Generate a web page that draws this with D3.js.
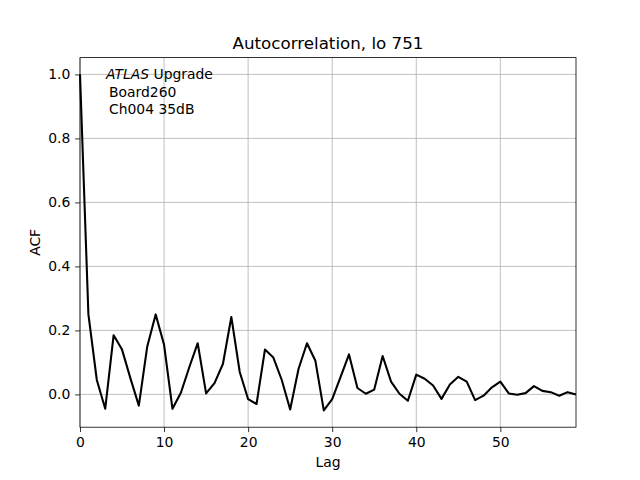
<!DOCTYPE html>
<html>
<head>
<meta charset="utf-8">
<script src="https://cdn.jsdelivr.net/npm/d3@7"></script>
<style>
	body { margin: 0; background: #fff; }
	text { font-family: "DejaVu Sans", sans-serif; }
</style>
</head>
<body>
<script>
// acf values, lag 0..59
var acf = [1.0, 0.25, 0.045, -0.045, 0.185, 0.14, 0.05, -0.035, 0.15, 0.25,
	0.155, -0.045, 0.005, 0.085, 0.16, 0.003, 0.035, 0.095, 0.242, 0.07,
	-0.015, -0.03, 0.14, 0.115, 0.045, -0.047, 0.08, 0.16, 0.105, -0.05,
	-0.015, 0.055, 0.125, 0.02, 0.002, 0.015, 0.12, 0.04, 0.002, -0.02,
	0.062, 0.049, 0.028, -0.014, 0.031, 0.055, 0.04, -0.018, -0.004, 0.022,
	0.04, 0.003, -0.001, 0.004, 0.026, 0.011, 0.007, -0.004, 0.007, 0.0];
var xTicks = [0, 10, 20, 30, 40, 50];
var yTicks = [0.0, 0.2, 0.4, 0.6, 0.8, 1.0];
var labelLines = ["Board260", "Ch004 35dB"];

/* layout, matplotlib default */
var margin = {top: 57.6, right: 64, bottom: 52.8, left: 80},
	W = 640, H = 480,
	width = W - margin.left - margin.right,
	height = H - margin.top - margin.bottom;

var x = d3.scaleLinear().domain([0, acf.length - 1]).range([0, width]);
var y = d3.scaleLinear().domain([-0.1025, 1.0525]).range([height, 0]);

var svg = d3.select("body").append("svg")
	.attr("width", W).attr("height", H);
var g = svg.append("g")
	.attr("transform", "translate(" + margin.left + "," + margin.top + ")");

// grid
g.append("g").selectAll("line").data(xTicks).enter().append("line")
	.attr("x1", function(d) {return x(d);}).attr("x2", function(d) {return x(d);})
	.attr("y1", 0).attr("y2", height)
	.attr("stroke", "#b0b0b0").attr("stroke-width", 0.8);
g.append("g").selectAll("line").data(yTicks).enter().append("line")
	.attr("y1", function(d) {return y(d);}).attr("y2", function(d) {return y(d);})
	.attr("x1", 0).attr("x2", width)
	.attr("stroke", "#b0b0b0").attr("stroke-width", 0.8);

// line
var line = d3.line().x(function(d, i) {return x(i);}).y(function(d) {return y(d);});
g.append("path").datum(acf)
	.attr("fill", "none").attr("stroke", "#000")
	.attr("stroke-width", 2.08).attr("stroke-linejoin", "round")
	.attr("d", line);

// axes
var xAxis = d3.axisBottom(x).tickValues(xTicks).tickSize(4.86).tickPadding(4.86)
	.tickFormat(d3.format("d"));
var yAxis = d3.axisLeft(y).tickValues(yTicks).tickSize(4.86).tickPadding(4.86)
	.tickFormat(d3.format(".1f"));
var gx = g.append("g").attr("transform", "translate(0," + height + ")").call(xAxis);
var gy = g.append("g").call(yAxis);
[gx, gy].forEach(function(a) {
	a.select(".domain").remove();
	a.selectAll("line").attr("stroke", "#000").attr("stroke-width", 0.8);
	a.selectAll("text").attr("font-size", "13.9px").attr("fill", "#000")
		.style("font-family", "DejaVu Sans");
});

// frame
g.append("rect").attr("width", width).attr("height", height)
	.attr("fill", "none").attr("stroke", "#000").attr("stroke-width", 0.8);

// labels
svg.append("text").attr("x", margin.left + width / 2).attr("y", 49)
	.attr("text-anchor", "middle").attr("font-size", "16.7px")
	.text("Autocorrelation, lo 751");
svg.append("text").attr("x", margin.left + width / 2).attr("y", 467)
	.attr("text-anchor", "middle").attr("font-size", "13.9px").text("Lag");
svg.append("text").attr("transform", "translate(40," + (margin.top + height / 2) + ") rotate(-90)")
	.attr("text-anchor", "middle").attr("font-size", "13.9px").text("ACF");

// annotation
var ann = svg.append("text").attr("x", 106).attr("y", 79).attr("font-size", "13.9px");
ann.append("tspan").attr("font-style", "italic").text("ATLAS");
ann.append("tspan").text(" Upgrade");
labelLines.forEach(function(t, i) {
	svg.append("text").attr("x", 109).attr("y", 97 + i * 16.5)
		.attr("font-size", "13.9px").text(t);
});
</script>
</body>
</html>
